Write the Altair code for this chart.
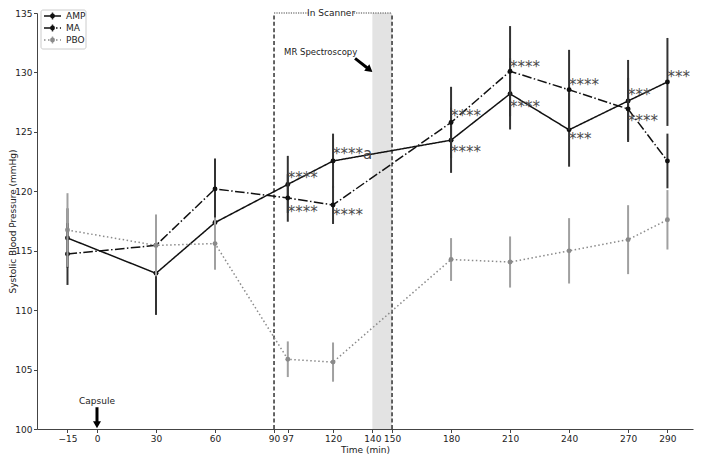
import altair as alt
import pandas as pd

# ---- data ----
series = ["AMP", "MA", "PBO"]
times = [-15, 30, 60, 97, 120, 180, 210, 240, 270, 290]
amp_mean = [116.07, 113.1, 117.37, 120.58, 122.55, 124.3, 128.2, 125.17, 127.6, 129.2]
amp_err = [2.5, 3.5, 2.4, 2.4, 2.3, 2.75, 3.0, 3.1, 3.45, 3.7]
ma_mean = [114.72, 115.45, 120.2, 119.44, 118.85, 125.79, 130.1, 128.54, 126.92, 122.55]
ma_err = [2.6, 2.4, 2.56, 2.0, 1.6, 3.0, 3.8, 3.36, 2.62, 2.3]
pbo_mean = [116.74, 115.45, 115.6, 105.87, 105.63, 114.26, 114.05, 114.99, 115.93, 117.6]
pbo_err = [3.1, 2.6, 2.2, 1.5, 1.65, 1.8, 2.15, 2.75, 2.9, 2.5]

ann_x = [97, 97, 120, 120, 180, 180, 210, 210, 240, 240, 270, 270, 290]
ann_y = [121.47, 118.63, 123.49, 118.31, 126.65, 123.63, 130.83, 127.41, 129.3, 124.7, 128.4, 126.28, 129.97]
ann_text = ["****", "****", "****a", "****", "****", "****", "****", "****", "****", "***", "***", "****", "***"]

x_ticks = [-15, 0, 30, 60, 90, 97, 120, 140, 150, 180, 210, 240, 270, 290]
y_ticks = [100, 105, 110, 115, 120, 125, 130, 135]

scanner_x = [90, 150]
spectro_x = [140, 150]

# ---- layout / style ----
W, H = 656, 416
FONT = "DejaVu Sans"
TXT = "#222222"
X = alt.Scale(domain=[-30.5, 303], nice=False, zero=False)
Y = alt.Scale(domain=[100, 135], nice=False, zero=False)

AX = alt.Axis(
    values=x_ticks, title="Time (min)", grid=False, domainColor="#444", tickColor="#444",
    tickSize=3.5, labelFontSize=9, labelColor=TXT, labelFont=FONT, labelPadding=1.5,
    labelOverlap=False, labelFlush=False, titleFont=FONT, titleFontSize=9,
    titleFontWeight="normal", titleColor=TXT, titlePadding=2)
AY = alt.Axis(
    values=y_ticks, title="Systolic Blood Pressure (mmHg)", grid=False, domainColor="#444",
    tickColor="#444", tickSize=3.5, labelFontSize=9, labelColor=TXT, labelFont=FONT,
    labelPadding=1.5, titleFont=FONT, titleFontSize=9, titleFontWeight="normal",
    titleColor=TXT, titleX=-25, titleY=H / 2, titleBaseline="middle", titleAlign="center")


def xq(f):
    return alt.X(f + ":Q", scale=X, axis=AX)


def yq(f):
    return alt.Y(f + ":Q", scale=Y, axis=AY)


styles = {
    "AMP": dict(color="#111111", bar="#333333", dash=[1, 0], mean=amp_mean, err=amp_err),
    "MA": dict(color="#111111", bar="#333333", dash=[9.6, 2.4, 1.5, 2.4], mean=ma_mean, err=ma_err),
    "PBO": dict(color="#8a8a8a", bar="#a0a0a0", dash=[1.5, 2.5], mean=pbo_mean, err=pbo_err),
}

layers = []

# spectroscopy band
band = alt.Chart(pd.DataFrame({"a": [spectro_x[0]], "b": [spectro_x[1]]})).mark_rect(
    color="#e3e3e3"
).encode(x=xq("a"), x2="b:Q", y=alt.value(0), y2=alt.value(H))
layers.append(band)

# scanner dashed verticals
scan = alt.Chart(pd.DataFrame({"x": scanner_x, "y0": [100, 100], "y1": [135, 135]})).mark_rule(
    color="#333333", strokeWidth=1.5, strokeDash=[4, 2.4]
).encode(x=xq("x"), y=yq("y0"), y2="y1:Q")
layers.append(scan)

# "In Scanner" top dotted line with gap for the label
top = alt.Chart(pd.DataFrame({"a": [90, 130.5], "b": [107.5, 150], "y": [135, 135]})).mark_rule(
    color="#444444", strokeWidth=1.2, strokeDash=[1.2, 1.2]
).encode(x=xq("a"), x2="b:Q", y=yq("y"))
layers.append(top)
layers.append(
    alt.Chart(pd.DataFrame({"x": [119], "y": [135], "t": ["In Scanner"]})).mark_text(
        font=FONT, fontSize=9, color=TXT, baseline="middle", align="center"
    ).encode(x=xq("x"), y=yq("y"), text="t:N")
)

# series
for s in series:
    st = styles[s]
    df = pd.DataFrame({
        "t": times, "m": st["mean"],
        "lo": [m - e for m, e in zip(st["mean"], st["err"])],
        "hi": [m + e for m, e in zip(st["mean"], st["err"])],
    })
    base = alt.Chart(df)
    layers.append(base.mark_rule(color=st["bar"], strokeWidth=2).encode(x=xq("t"), y=yq("lo"), y2="hi:Q"))
    layers.append(base.mark_line(color=st["color"], strokeWidth=1.5, strokeDash=st["dash"]).encode(x=xq("t"), y=yq("m")))
    layers.append(base.mark_circle(color=st["color"], size=24, opacity=1).encode(x=xq("t"), y=yq("m")))

# significance annotations
ann = pd.DataFrame({"x": ann_x, "y": ann_y, "t": ann_text})
layers.append(
    alt.Chart(ann).mark_text(font=FONT, fontSize=15, color="#4a4a4a", align="left",
                             baseline="alphabetic", dy=9, dx=0).encode(
        x=xq("x"), y=yq("y"), text="t:N")
)

# MR Spectroscopy text + arrow
layers.append(
    alt.Chart(pd.DataFrame({"x": [95.1], "y": [131.75], "t": ["MR Spectroscopy"]})).mark_text(
        font=FONT, fontSize=8.5, color=TXT, align="left", baseline="middle"
    ).encode(x=xq("x"), y=yq("y"), text="t:N")
)
layers.append(
    alt.Chart(pd.DataFrame({"a": [131.2], "b": [138.6], "y": [131.18], "y2": [130.23]})).mark_rule(
        color="black", strokeWidth=3
    ).encode(x=xq("a"), x2="b:Q", y=yq("y"), y2="y2:Q")
)
layers.append(
    alt.Chart(pd.DataFrame({"x": [138.6], "y": [130.23]})).mark_point(
        shape="triangle-right", filled=True, color="black", size=70, angle=38, opacity=1
    ).encode(x=xq("x"), y=yq("y"))
)

# Capsule text + arrow
layers.append(
    alt.Chart(pd.DataFrame({"x": [0], "y": [102.33], "t": ["Capsule"]})).mark_text(
        font=FONT, fontSize=9, color=TXT, align="center", baseline="middle"
    ).encode(x=xq("x"), y=yq("y"), text="t:N")
)
layers.append(
    alt.Chart(pd.DataFrame({"x": [0], "y": [101.83], "y2": [100.4]})).mark_rule(
        color="black", strokeWidth=3
    ).encode(x=xq("x"), y=yq("y"), y2="y2:Q")
)
layers.append(
    alt.Chart(pd.DataFrame({"x": [0], "y": [100.36]})).mark_point(
        shape="triangle-down", filled=True, color="black", size=64, opacity=1
    ).encode(x=xq("x"), y=yq("y"))
)

# manual legend (top-left)
one = pd.DataFrame({"a": [0]})
layers.append(
    alt.Chart(one).mark_rect(fill="white", stroke="#cccccc", strokeWidth=1, cornerRadius=2).encode(
        x=alt.value(4), x2=alt.value(49), y=alt.value(-3), y2=alt.value(36))
)
for i, s in enumerate(series):
    st = styles[s]
    ly = 3 + 12 * i
    layers.append(alt.Chart(one).mark_rule(color=st["color"], strokeWidth=1.5, strokeDash=st["dash"]).encode(
        x=alt.value(7), x2=alt.value(24), y=alt.value(ly)))
    layers.append(alt.Chart(one).mark_rule(color=st["bar"], strokeWidth=1.5).encode(
        x=alt.value(15.5), y=alt.value(ly - 3.5), y2=alt.value(ly + 3.5)))
    layers.append(alt.Chart(one).mark_circle(color=st["color"], size=24, opacity=1).encode(
        x=alt.value(15.5), y=alt.value(ly)))
    layers.append(alt.Chart(pd.DataFrame({"t": [s]})).mark_text(
        font=FONT, fontSize=9, color=TXT, align="left", baseline="middle").encode(
        x=alt.value(29), y=alt.value(ly), text="t:N"))

chart = alt.layer(*layers).properties(
    width=W, height=H,
    background="white",
    autosize=alt.AutoSizeParams(type="none"),
    padding={"left": 29, "top": 5, "right": 1, "bottom": 26},
).configure_view(stroke=None)

chart.save("out.html", embed_options={"renderer": "svg", "actions": False})
